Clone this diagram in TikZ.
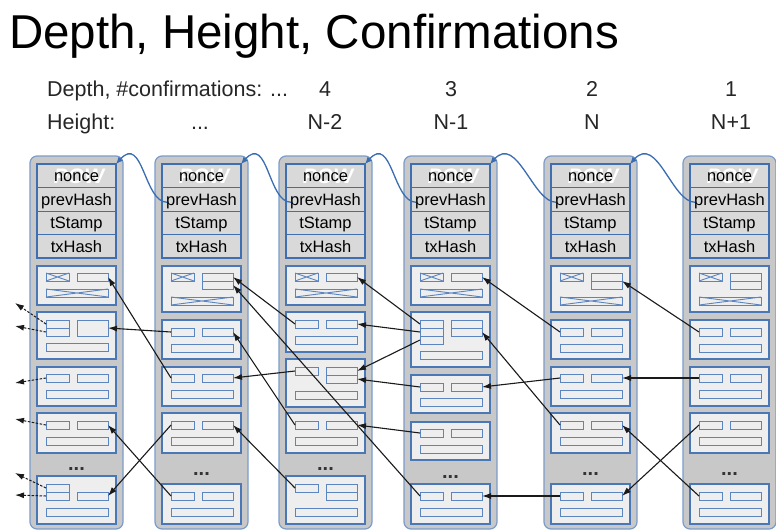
\documentclass[tikz,border=0pt]{standalone}
\usepackage{fontspec}
\setmainfont{Liberation Sans}
\usetikzlibrary{arrows.meta}
\definecolor{blkfill}{HTML}{C8C8C8}
\definecolor{blkborder}{HTML}{7A9CCB}
\definecolor{hdrfill}{HTML}{D9D9D9}
\definecolor{hdrborder}{HTML}{3F6FB0}
\definecolor{txfill}{HTML}{EEEEEE}
\definecolor{txborder}{HTML}{4A77B6}
\definecolor{partborder}{HTML}{5A85C0}
\definecolor{hashblue}{HTML}{3A6CB0}
\definecolor{arrowcol}{HTML}{1A1A1A}
\tikzset{
 blockbox/.style={draw=blkborder, fill=blkfill, line width=1.2pt, rounded corners=7pt, inner sep=0pt, outer sep=0pt, minimum width=93pt, minimum height=373pt, anchor=north west},
 hdrrow/.style={draw=hdrborder, fill=hdrfill, line width=1pt, inner sep=0pt, outer sep=0pt, minimum width=79pt, minimum height=23.5pt, anchor=north west},
 hdrframe/.style={draw=hdrborder, line width=1.3pt, inner sep=0pt, outer sep=0pt, minimum width=79pt, minimum height=94pt, anchor=north west},
 hdrtxt/.style={font=\fontsize{16.5}{18}\selectfont, text=black, inner sep=0pt, text height=12.5pt, text depth=1pt},
 powtxt/.style={font=\fontsize{21}{22}\selectfont\bfseries\itshape, text=white, inner sep=0pt},
 txbox/.style={draw=txborder, fill=txfill, line width=1.3pt, inner sep=0pt, outer sep=0pt, minimum width=79pt, anchor=north west},
 part/.style={draw=partborder, fill=txfill, line width=1pt, inner sep=0pt, outer sep=0pt, minimum height=8pt, anchor=north west},
 inp/.style={part, minimum width=23pt},
 outp/.style={part, minimum width=31pt},
 txbar/.style={part, minimum width=62pt},
 crossline/.style={draw=partborder, line width=0.9pt},
 dotstxt/.style={font=\fontsize{20}{20}\selectfont\bfseries, text=black!80, inner sep=0pt},
 txarrow/.style={draw=arrowcol, line width=1.1pt, -{Latex[length=9pt,width=6pt]}},
 dasharrow/.style={draw=arrowcol, line width=1pt, dashed, dash pattern=on 2.5pt off 1.5pt, -{Latex[length=9pt,width=6pt]}},
 hasharrow/.style={draw=hashblue, line width=1.3pt, -{Latex[length=7pt,width=6pt]}},
 titletxt/.style={font=\fontsize{47.5}{52}\selectfont, inner sep=0pt},
 lbl/.style={font=\fontsize{21.5}{24}\selectfont, inner sep=0pt, text=black!85}
}
\newcommand{\Blk}[2]{%
 \node[blockbox] (#1) at (#2,156) {};
 \node[hdrrow] (#1nonce) at ({#2+7},164) {};
 \node[hdrrow] (#1prev) at ({#2+7},187.5) {};
 \node[hdrrow] (#1ts) at ({#2+7},211) {};
 \node[hdrrow] (#1txh) at ({#2+7},234.5) {};
 \node[hdrframe] (#1hdr) at ({#2+7},164) {};
 \node[powtxt] (#1pow) at ({#2+49},176) {POW};
 \node[hdrtxt] (#1nonceT) at (#1nonce.center) {nonce};
 \node[hdrtxt] (#1prevT) at (#1prev.center) {prevHash};
 \node[hdrtxt] (#1tsT) at (#1ts.center) {tStamp};
 \node[hdrtxt] (#1txhT) at (#1txh.center) {txHash};
}
\newcommand{\TxBox}[4]{\node[txbox, minimum height=#4pt] (#1) at ({#2+7},#3) {};}
\newcommand{\Inp}[3]{\node[inp] (#1) at ({#2+16},#3) {};}
\newcommand{\Outp}[3]{\node[outp] (#1) at ({#2+47},#3) {};}
\newcommand{\TxBar}[3]{\node[txbar] (#1) at ({#2+16},#3) {};}
\newcommand{\Cross}[1]{\draw[crossline] (#1.north west) -- (#1.south east) (#1.south west) -- (#1.north east);}
\newcommand{\Dots}[3]{\node[dotstxt, anchor=base] (#1) at ({#2+46.5},#3) {...};}
\begin{document}
\begin{tikzpicture}[x=1pt,y=-1pt]
\useasboundingbox (0,0) rectangle (776,531);
\fill[white] (0,0) rectangle (776,531);

\node[titletxt, anchor=base west] (title) at (9,48) {Depth, Height, Confirmations};
\node[lbl, anchor=base west] (dlbl) at (47,96) {Depth, \#confirmations: ...};
\node[lbl, anchor=base] (d4) at (325,96) {4};
\node[lbl, anchor=base] (d3) at (451,96) {3};
\node[lbl, anchor=base] (d2) at (592,96) {2};
\node[lbl, anchor=base] (d1) at (731,96) {1};
\node[lbl, anchor=base west] (hlbl) at (47,129) {Height:};
\node[lbl, anchor=base] (hdots) at (200,129) {...};
\node[lbl, anchor=base] (h4) at (325,129) {N-2};
\node[lbl, anchor=base] (h3) at (451,129) {N-1};
\node[lbl, anchor=base] (h2) at (592,129) {N};
\node[lbl, anchor=base] (h1) at (731,129) {N+1};

% ---------- block 1
\Blk{b1}{30}
\TxBox{b1t1}{30}{266}{39}
\Inp{b1c1}{30}{273}\Cross{b1c1}
\Outp{b1o1}{30}{273}
\TxBar{b1r1}{30}{289}\Cross{b1r1}
\TxBox{b1t2}{30}{312}{47}
\Inp{b1i2a}{30}{320}\Inp{b1i2b}{30}{328}
\node[outp, minimum height=16pt] (b1o2) at (77,320) {};
\TxBar{b1r2}{30}{343}
\TxBox{b1t3}{30}{367}{39}
\Inp{b1i3}{30}{374}\Outp{b1o3}{30}{374}\TxBar{b1r3}{30}{390}
\TxBox{b1t4}{30}{413}{40}
\Inp{b1i4}{30}{421}\Outp{b1o4}{30}{421}\TxBar{b1r4}{30}{437}
\Dots{b1d}{30}{470}
\TxBox{b1t5}{30}{476}{48}
\Inp{b1i5a}{30}{484}\Inp{b1i5b}{30}{492}\Outp{b1o5}{30}{492}\TxBar{b1r5}{30}{508}

% ---------- block 2
\Blk{b2}{155}
\TxBox{b2t1}{155}{266}{46}
\Inp{b2c1}{155}{273}\Cross{b2c1}
\Outp{b2o1a}{155}{273}\Outp{b2o1b}{155}{281}
\TxBar{b2r1}{155}{297}\Cross{b2r1}
\TxBox{b2t2}{155}{320}{39}
\Inp{b2i2}{155}{328}\Outp{b2o2}{155}{328}\TxBar{b2r2}{155}{344}
\TxBox{b2t3}{155}{367}{39}
\Inp{b2i3}{155}{374}\Outp{b2o3}{155}{374}\TxBar{b2r3}{155}{390}
\TxBox{b2t4}{155}{413}{40}
\Inp{b2i4}{155}{421}\Outp{b2o4}{155}{421}\TxBar{b2r4}{155}{437}
\Dots{b2d}{155}{475}
\TxBox{b2t5}{155}{484}{40}
\Inp{b2i5}{155}{492}\Outp{b2o5}{155}{492}\TxBar{b2r5}{155}{508}

% ---------- block 3
\Blk{b3}{279}
\TxBox{b3t1}{279}{266}{39}
\Inp{b3c1}{279}{273}\Cross{b3c1}
\Outp{b3o1}{279}{273}
\TxBar{b3r1}{279}{289}\Cross{b3r1}
\TxBox{b3t2}{279}{312}{40}
\Inp{b3i2}{279}{320}\Outp{b3o2}{279}{320}\TxBar{b3r2}{279}{336}
\TxBox{b3t3}{279}{359}{48}
\Inp{b3i3}{279}{367}\Outp{b3o3a}{279}{367}\Outp{b3o3b}{279}{375}\TxBar{b3r3}{279}{391}
\TxBox{b3t4}{279}{413}{40}
\Inp{b3i4}{279}{421}\Outp{b3o4}{279}{421}\TxBar{b3r4}{279}{437}
\Dots{b3d}{279}{470}
\TxBox{b3t5}{279}{476}{48}
\Inp{b3i5}{279}{484}\Outp{b3o5a}{279}{484}\Outp{b3o5b}{279}{492}\TxBar{b3r5}{279}{508}

% ---------- block 4
\Blk{b4}{404}
\TxBox{b4t1}{404}{266}{39}
\Inp{b4c1}{404}{273}\Cross{b4c1}
\Outp{b4o1}{404}{273}
\TxBar{b4r1}{404}{289}\Cross{b4r1}
\TxBox{b4t2}{404}{312}{55}
\Inp{b4i2a}{404}{320}\Inp{b4i2b}{404}{328}\Inp{b4i2c}{404}{336}
\Outp{b4o2a}{404}{320}\Outp{b4o2b}{404}{328}
\TxBar{b4r2}{404}{351}
\TxBox{b4t3}{404}{375}{38}
\Inp{b4i3}{404}{383}\Outp{b4o3}{404}{383}\TxBar{b4r3}{404}{398}
\TxBox{b4t4}{404}{422}{38}
\Inp{b4i4}{404}{429}\Outp{b4o4}{404}{429}\TxBar{b4r4}{404}{445}
\Dots{b4d}{404}{478}
\TxBox{b4t5}{404}{484}{40}
\Inp{b4i5}{404}{492}\Outp{b4o5}{404}{492}\TxBar{b4r5}{404}{508}

% ---------- block 5
\Blk{b5}{544}
\TxBox{b5t1}{544}{266}{46}
\Inp{b5c1}{544}{273}\Cross{b5c1}
\Outp{b5o1a}{544}{273}\Outp{b5o1b}{544}{281}
\TxBar{b5r1}{544}{297}\Cross{b5r1}
\TxBox{b5t2}{544}{320}{39}
\Inp{b5i2}{544}{328}\Outp{b5o2}{544}{328}\TxBar{b5r2}{544}{344}
\TxBox{b5t3}{544}{367}{39}
\Inp{b5i3}{544}{374}\Outp{b5o3}{544}{374}\TxBar{b5r3}{544}{390}
\TxBox{b5t4}{544}{413}{40}
\Inp{b5i4}{544}{421}\Outp{b5o4}{544}{421}\TxBar{b5r4}{544}{437}
\Dots{b5d}{544}{475}
\TxBox{b5t5}{544}{484}{40}
\Inp{b5i5}{544}{492}\Outp{b5o5}{544}{492}\TxBar{b5r5}{544}{508}

% ---------- block 6
\Blk{b6}{683}
\TxBox{b6t1}{683}{266}{46}
\Inp{b6c1}{683}{273}\Cross{b6c1}
\Outp{b6o1a}{683}{273}\Outp{b6o1b}{683}{281}
\TxBar{b6r1}{683}{297}\Cross{b6r1}
\TxBox{b6t2}{683}{320}{39}
\Inp{b6i2}{683}{328}\Outp{b6o2}{683}{328}\TxBar{b6r2}{683}{344}
\TxBox{b6t3}{683}{367}{39}
\Inp{b6i3}{683}{374}\Outp{b6o3}{683}{374}\TxBar{b6r3}{683}{390}
\TxBox{b6t4}{683}{413}{40}
\Inp{b6i4}{683}{421}\Outp{b6o4}{683}{421}\TxBar{b6r4}{683}{437}
\Dots{b6d}{683}{475}
\TxBox{b6t5}{683}{484}{40}
\Inp{b6i5}{683}{492}\Outp{b6o5}{683}{492}\TxBar{b6r5}{683}{508}

% ---------- transaction references
\draw[txarrow] (b2i2.west) -- (b1o2.east);
\draw[txarrow] (b2i3.west) -- (b1o1.east);
\draw[txarrow] (b2i4.west) -- (b1o5.east);
\draw[txarrow] (b2i5.west) -- (b1o4.east);
\draw[txarrow] (b3i2.west) -- (b2o1a.east);
\draw[txarrow] (b3i3.west) -- (b2o3.east);
\draw[txarrow] (b3i4.west) -- (b2o2.east);
\draw[txarrow] (b3i5.west) -- (b2o4.east);
\draw[txarrow] (b4i2a.west) -- (b3o1.east);
\draw[txarrow] (b4i2b.west) -- (b3o2.east);
\draw[txarrow] (b4i2c.west) -- (b3o3a.east);
\draw[txarrow] (b4i3.west) -- (b3o3b.east);
\draw[txarrow] (b4i4.west) -- (b3o4.east);
\draw[txarrow] (b4i5.west) -- (b2o1b.east);
\draw[txarrow] (b5i2.west) -- (b4o1.east);
\draw[txarrow] (b5i3.west) -- (b4o3.east);
\draw[txarrow] (b5i4.west) -- (b4o2b.east);
\draw[txarrow] (b5i5.west) -- (b4o5.east);
\draw[txarrow] (b6i2.west) -- (b5o1a.south east);
\draw[txarrow] (b6i3.west) -- (b5o3.east);
\draw[txarrow] (b6i4.west) -- (b5o5.east);
\draw[txarrow] (b6i5.west) -- (b5o4.east);

% ---------- references out of the picture
\coordinate (x1) at (15,303);
\coordinate (x2) at (15,326);
\coordinate (x3) at (15,383);
\coordinate (x4) at (15,419);
\coordinate (x5) at (15,473);
\coordinate (x6) at (15,495);
\draw[dasharrow] (b1i2a.west) -- (x1);
\draw[dasharrow] (b1i2b.west) -- (x2);
\draw[dasharrow] (b1i3.west) -- (x3);
\draw[dasharrow] (b1i4.west) -- (x4);
\draw[dasharrow] (b1i5a.west) -- (x5);
\draw[dasharrow] (b1i5b.west) -- (x6);

% ---------- prevHash links
\draw[hasharrow] ([xshift=5pt,yshift=-3pt]b2prev.west) .. controls +(-23,0) and +(27,-30) .. (b1hdr.north east);
\draw[hasharrow] ([xshift=5pt,yshift=-3pt]b3prev.west) .. controls +(-23,0) and +(27,-30) .. (b2hdr.north east);
\draw[hasharrow] ([xshift=5pt,yshift=-3pt]b4prev.west) .. controls +(-23,0) and +(27,-30) .. (b3hdr.north east);
\draw[hasharrow] ([xshift=5pt,yshift=-3pt]b5prev.west) .. controls +(-23,0) and +(27,-30) .. (b4hdr.north east);
\draw[hasharrow] ([xshift=5pt,yshift=-3pt]b6prev.west) .. controls +(-23,0) and +(27,-30) .. (b5hdr.north east);
\end{tikzpicture}
\end{document}
